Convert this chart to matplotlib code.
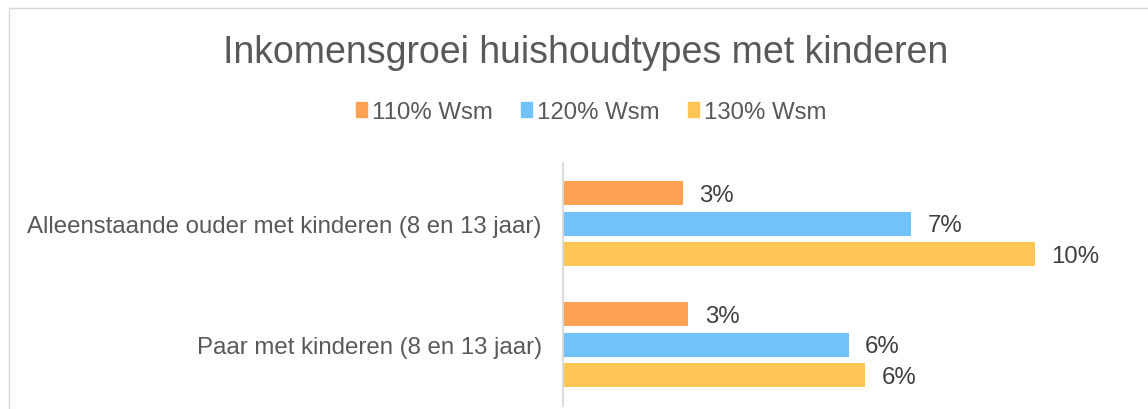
import matplotlib.pyplot as plt
from matplotlib.patches import Patch, Rectangle

plt.rcParams['font.family'] = ['Liberation Sans', 'DejaVu Sans']

# data
categories = ['Alleenstaande ouder met kinderen (8 en 13 jaar)',
              'Paar met kinderen (8 en 13 jaar)']
series = ['110% Wsm', '120% Wsm', '130% Wsm']
wsm_110 = [2.55, 2.66]
wsm_120 = [7.38, 6.06]
wsm_130 = [10.0, 6.40]
colors = ['#FFA254', '#71C2F9', '#FFC655']

fig = plt.figure(figsize=(11.48, 4.10), dpi=100)
ax = fig.add_axes([0.49, 0.0083, 0.4934, 0.5917])

height = 0.198
step = 0.2515
for i, (name, vals) in enumerate(zip(series, [wsm_110, wsm_120, wsm_130])):
    ys = [c + (i - 1) * step for c in range(len(categories))]
    ax.barh(ys, vals, height=height, color=colors[i])
    for y, v in zip(ys, vals):
        ax.annotate(f'{v:.0f}%', (v, y), xytext=(12, -1), textcoords='offset points',
                    va='center', ha='left', fontsize=17.3, color='#404040')

ax.set_xlim(0, 12)
ax.set_ylim(1.5, -0.5)
ax.set_yticks(range(len(categories)))
ax.set_yticklabels(categories, fontsize=17.3, color='#595959')
ax.tick_params(axis='y', length=0, pad=15)
ax.set_xticks([])
for s in ['top', 'right', 'bottom']:
    ax.spines[s].set_visible(False)
ax.spines['left'].set_color('#D9D9D9')
ax.spines['left'].set_linewidth(1.3)

fig.text(0.51, 0.87, 'Inkomensgroei huishoudtypes met kinderen',
         ha='center', va='center', fontsize=27, color='#595959')

handles = [Patch(color=c) for c in colors]
fig.legend(handles, series, loc='center', bbox_to_anchor=(0.515, 0.724), ncol=3,
           frameon=False, fontsize=17.3, handlelength=0.45, handleheight=0.6,
           handletextpad=0.2, columnspacing=1.2, labelcolor='#595959')

# light border of the chart area
fig.patches.append(Rectangle((9 / 1148, -0.1), 1.2, 1 - 9 / 410 + 0.1,
                             transform=fig.transFigure, fill=False,
                             edgecolor='#D9D9D9', linewidth=1))

fig.savefig('out.png', dpi=100)
